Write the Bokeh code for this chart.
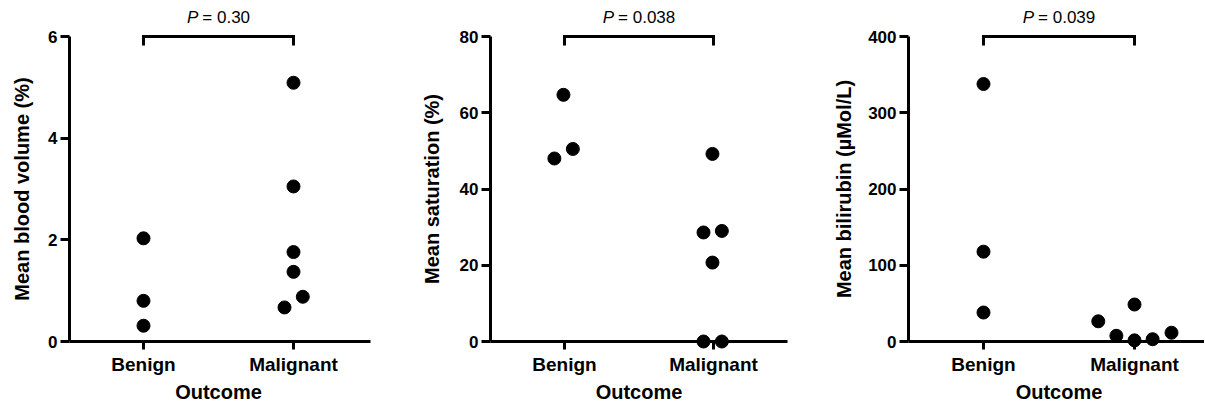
import math
from bokeh.plotting import figure
from bokeh.layouts import row
from bokeh.models import Range1d, FixedTicker, Label
from bokeh.embed import file_html
from bokeh.resources import INLINE

# ---------------- data ----------------
categories = ["Benign", "Malignant"]
x_title = "Outcome"

bv_title = "Mean blood volume (%)"
bv_ticks = [0, 2, 4, 6]
bv_benign = [2.03, 0.80, 0.31]
bv_malignant = [5.09, 3.05, 1.76, 1.37, 0.88, 0.67]
bv_p = "0.30"

sat_title = "Mean saturation (%)"
sat_ticks = [0, 20, 40, 60, 80]
sat_benign = [64.7, 50.5, 48.0]
sat_malignant = [49.2, 29.0, 28.6, 20.7, 0.0, 0.0]
sat_p = "0.038"

bil_title = "Mean bilirubin (µMol/L)"
bil_ticks = [0, 100, 200, 300, 400]
bil_benign = [337.7, 117.8, 38.0]
bil_malignant = [48.5, 26.5, 7.5, 1.5, 3.0, 11.5]
bil_p = "0.039"

# horizontal scatter offsets (layout only, in category units)
bv_benign_dx = [0.0, 0.0, 0.0]
bv_malignant_dx = [0.0, 0.0, 0.0, 0.0, 0.062, -0.06]
sat_benign_dx = [-0.007, 0.056, -0.068]
sat_malignant_dx = [-0.007, 0.056, -0.067, -0.007, -0.067, 0.056]
bil_benign_dx = [0.0, 0.0, 0.0]
bil_malignant_dx = [0.0, -0.24, -0.12, 0.0, 0.12, 0.245]

# ---------------- layout (page pixels) ----------------
TOP = 0
H = 404
YMAX_PX = 36
ZERO_PX = 341
PTEXT_Y = 17
XTITLE_Y = 391
LABEL_SHIFT = 7
FONT = "Liberation Sans"

CHAR_W = {"=": 0.584, " ": 0.278, ".": 0.278, "P": 0.667}


def text_w(s, size):
    return sum(CHAR_W.get(c, 0.556) for c in s) * size


def make_panel(ytitle, ticks, benign, malignant, bdx, mdx, pval,
               fig_left, width, yaxis_px, b_px, m_px, xend_px, ylab_px):
    ymax = ticks[-1]
    k = (ZERO_PX - YMAX_PX) / ymax
    u = m_px - b_px

    def xd(px):
        return 1 + (px - b_px) / u

    def yd(py):
        return (ZERO_PX - py) / k

    p = figure(width=width, height=H, output_backend="svg", toolbar_location=None,
               title=None, min_border_left=0, min_border_right=0,
               min_border_top=0, min_border_bottom=0,
               x_range=Range1d(xd(fig_left), xd(fig_left + width)),
               y_range=Range1d(yd(TOP + H), yd(TOP)))
    p.outline_line_color = None
    p.xgrid.visible = False
    p.ygrid.visible = False
    p.background_fill_color = "white"
    p.border_fill_color = "white"

    yloc = xd(yaxis_px)

    ya = p.yaxis[0]
    ya.fixed_location = yloc
    ya.bounds = (0, ymax)
    ya.ticker = FixedTicker(ticks=ticks)
    ya.major_tick_out = 9
    ya.major_tick_in = 0
    ya.minor_tick_line_color = None
    ya.axis_line_width = 3
    ya.major_tick_line_width = 3
    ya.axis_line_color = "black"
    ya.major_tick_line_color = "black"
    ya.major_label_text_font = FONT
    ya.major_label_text_font_style = "bold"
    ya.major_label_text_font_size = "17px"
    ya.major_label_text_color = "black"
    ya.major_label_standoff = 3

    xa = p.xaxis[0]
    xa.fixed_location = 0
    xa.bounds = (yloc, xd(xend_px))
    xa.ticker = FixedTicker(ticks=[1, 2])
    xa.major_label_overrides = {1: categories[0], 2: categories[1]}
    xa.major_tick_out = 8
    xa.major_tick_in = 0
    xa.minor_tick_line_color = None
    xa.axis_line_width = 3
    xa.major_tick_line_width = 3
    xa.axis_line_color = "black"
    xa.major_tick_line_color = "black"
    xa.major_label_text_font = FONT
    xa.major_label_text_font_style = "bold"
    xa.major_label_text_font_size = "19px"
    xa.major_label_text_color = "black"
    xa.major_label_standoff = 4

    # points
    p.scatter([1 + d for d in bdx], benign, size=13, color="black")
    p.scatter([2 + d for d in mdx], malignant, size=13, color="black")

    # significance bracket
    leg = 9 / k
    p.line([1, 1, 2, 2], [ymax - leg, ymax, ymax, ymax - leg],
           line_width=3, color="black", line_join="miter")

    # P label
    fs = 17
    wp = text_w("P", fs)
    rest = "= " + pval
    wr = text_w(rest, fs)
    gap = 4
    total = wp + gap + wr
    mid_px = (b_px + m_px) / 2
    left_px = mid_px - total / 2
    p.add_layout(Label(x=xd(left_px + wp), y=yd(PTEXT_Y), text="P",
                       text_align="right", text_baseline="alphabetic",
                       text_font=FONT, text_font_style="italic",
                       text_font_size=f"{fs}px", text_color="black"))
    p.add_layout(Label(x=xd(left_px + wp + gap), y=yd(PTEXT_Y), text=rest,
                       text_align="left", text_baseline="alphabetic",
                       text_font=FONT, text_font_style="normal",
                       text_font_size=f"{fs}px", text_color="black"))

    # axis titles
    p.add_layout(Label(x=1.5, y=yd(XTITLE_Y), text=x_title,
                       text_align="center", text_baseline="alphabetic",
                       text_font=FONT, text_font_style="bold",
                       text_font_size="20px", text_color="black"))
    p.add_layout(Label(x=xd(ylab_px - LABEL_SHIFT), y=ymax / 2, text=ytitle,
                       angle=math.pi / 2, text_align="center",
                       text_baseline="alphabetic",
                       text_font=FONT, text_font_style="bold",
                       text_font_size="20px", text_color="black"))
    return p


p1 = make_panel(bv_title, bv_ticks, bv_benign, bv_malignant, bv_benign_dx,
                bv_malignant_dx, bv_p,
                fig_left=0, width=400, yaxis_px=69, b_px=143, m_px=293,
                xend_px=370, ylab_px=28)
p2 = make_panel(sat_title, sat_ticks, sat_benign, sat_malignant, sat_benign_dx,
                sat_malignant_dx, sat_p,
                fig_left=400, width=400, yaxis_px=490, b_px=564, m_px=713,
                xend_px=787, ylab_px=438)
p3 = make_panel(bil_title, bil_ticks, bil_benign, bil_malignant, bil_benign_dx,
                bil_malignant_dx, bil_p,
                fig_left=800, width=404, yaxis_px=908, b_px=983, m_px=1134,
                xend_px=1204, ylab_px=850)

layout = row(p1, p2, p3)
open("out.html", "w").write(file_html(layout, INLINE))
